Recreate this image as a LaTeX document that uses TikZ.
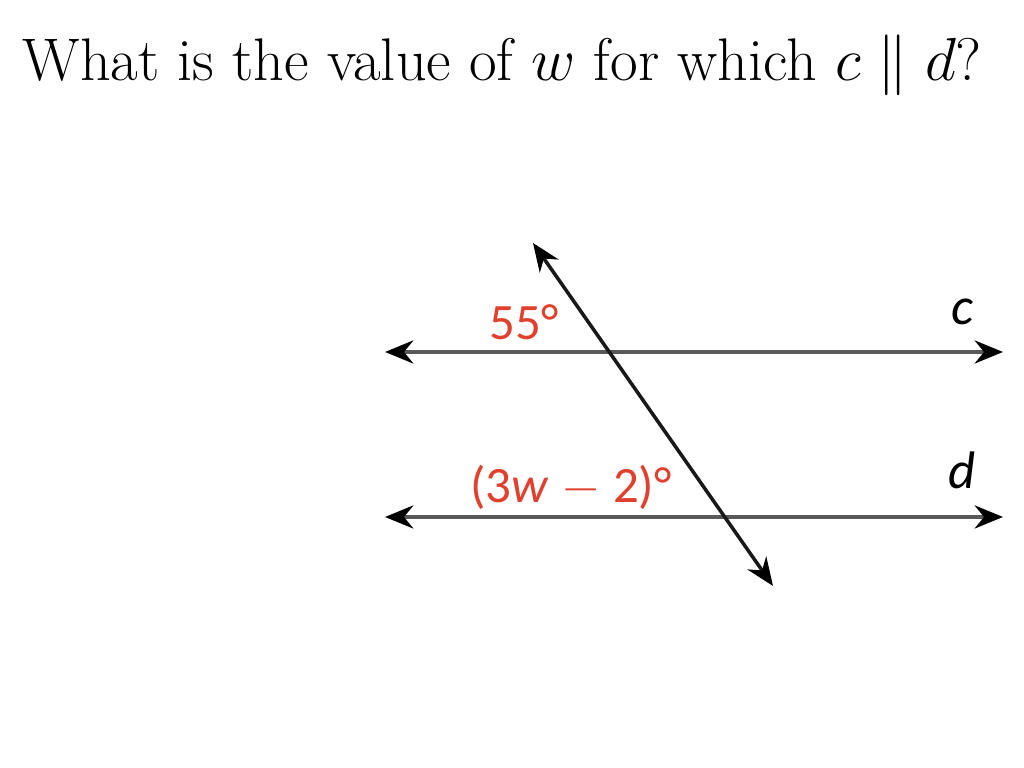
\documentclass[tikz,border=0pt]{standalone}
\usepackage{fontspec}
\newfontfamily\lblfont{Carlito}
\usetikzlibrary{arrows.meta}
\definecolor{anglered}{HTML}{E0402E}
\tikzset{
	parline/.style={line width=1.3pt, black!65, {Stealth[length=8pt,width=6.5pt,black]}-{Stealth[length=8pt,width=6.5pt,black]}},
	transline/.style={line width=1pt, black!90, {Stealth[length=8pt,width=6.5pt,black]}-{Stealth[length=8pt,width=6.5pt,black]}},
	anglelbl/.style={anglered, font=\lblfont\fontsize{14.5}{16}\selectfont},
	linelbl/.style={font=\lblfont\itshape\fontsize{15}{17}\selectfont}
}
\begin{document}
\begin{tikzpicture}[x=0.01cm, y=-0.01cm]
			\useasboundingbox (0,0) rectangle (1024,768);
			\node [anchor=base west, inner sep=0pt, font=\fontsize{17.1}{20}\selectfont] (title) at (22,81) {What is the value of $w$ for which $c \parallel d$?};

			\coordinate (cL) at (385,352);
			\coordinate (cR) at (1003,352);
			\coordinate (dL) at (385,517);
			\coordinate (dR) at (1003,517);
			\coordinate (tT) at (533,243);
			\coordinate (tB) at (773,586);

			\draw [parline] (cL) -- (cR);
			\draw [parline] (dL) -- (dR);
			\draw [transline] (tT) -- (tB);

			\node [anglelbl] (a1) at (524,322) {55°};
			\node [anglelbl] (a2) at (571,487) {(3\textit{w}\hspace{3.5pt}\textcolor{anglered}{$-$}\hspace{3.5pt}2)°};
			\node [linelbl] (lc) at (962,312) {c};
			\node [linelbl] (ld) at (962,470) {d};
		\end{tikzpicture}
\end{document}
